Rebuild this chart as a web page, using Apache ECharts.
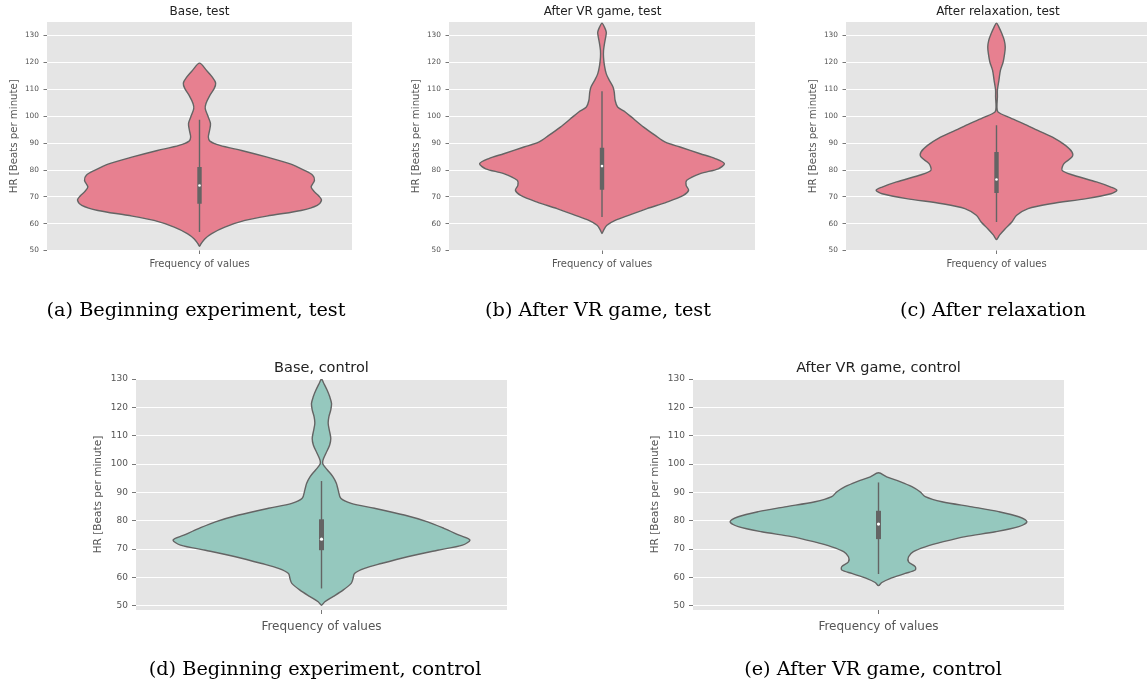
<!DOCTYPE html>
<html><head><meta charset="utf-8">
<script src="https://cdn.jsdelivr.net/npm/echarts@6/dist/echarts.min.js"></script>
<style>html,body{margin:0;padding:0;background:#fff}#c{width:1147px;height:685px}</style>
</head><body><div id="c"></div>
<script>
// ---------- data ----------
const panelTitles = ['Base, test', 'After VR game, test', 'After relaxation, test', 'Base, control', 'After VR game, control'];
const captions = ['(a) Beginning experiment, test', '(b) After VR game, test', '(c) After relaxation', '(d) Beginning experiment, control', '(e) After VR game, control'];
const yAxisTitle = 'HR [Beats per minute]';
const xAxisTitle = 'Frequency of values';
const yTickValues = [50, 60, 70, 80, 90, 100, 110, 120, 130];

// violin profiles: HR value (y) and half-width (w, in category units, max 0.4)
const baseTestY = [51.6, 52.5, 54.4, 56.3, 58.7, 61.2, 63.1, 64.9, 66.8, 68.7, 70.2, 71.8, 73.6, 76.1, 78.0, 79.8, 82.3, 84.8, 87.2, 89.1, 90.7, 92.2, 94.7, 97.2, 99.6, 102.7, 104.6, 107.7, 110.2, 112.3, 114.5, 117.0, 119.7];
const baseTestW = [0, 0.005, 0.018, 0.040, 0.083, 0.149, 0.236, 0.333, 0.386, 0.400, 0.392, 0.377, 0.366, 0.377, 0.371, 0.344, 0.295, 0.219, 0.138, 0.067, 0.034, 0.029, 0.033, 0.036, 0.029, 0.019, 0.021, 0.034, 0.048, 0.053, 0.042, 0.023, 0];
const baseTestBox = [56.9, 67.4, 74.2, 81.1, 98.6];

const vrTestY = [56.3, 57.5, 59.4, 61.2, 63.1, 65.6, 68.0, 70.5, 72.4, 74.2, 76.1, 78.6, 80.4, 82.3, 84.2, 86.0, 88.5, 90.3, 92.8, 95.9, 99.0, 101.5, 103.4, 105.8, 108.9, 110.8, 113.3, 115.7, 118.8, 121.9, 124.4, 126.9, 129.4, 131.2, 133.1, 134.6];
const vrTestW = [0, 0.005, 0.016, 0.043, 0.087, 0.147, 0.212, 0.266, 0.283, 0.275, 0.277, 0.321, 0.380, 0.400, 0.370, 0.321, 0.255, 0.207, 0.174, 0.136, 0.103, 0.076, 0.051, 0.043, 0.040, 0.036, 0.024, 0.014, 0.008, 0.005, 0.005, 0.008, 0.012, 0.014, 0.008, 0];
const vrTestBox = [62.5, 72.6, 81.4, 88.2, 109.2];

const relaxTestY = [54.1, 55.7, 58.1, 60.6, 63.1, 65.6, 67.4, 69.3, 71.1, 72.4, 73.6, 75.5, 78.0, 79.8, 82.3, 84.8, 86.6, 89.1, 92.2, 94.7, 97.2, 99.6, 101.5, 103.4, 107.1, 109.6, 113.3, 117.0, 120.1, 123.2, 125.7, 128.1, 130.6, 133.1, 134.6];
const relaxTestW = [0, 0.010, 0.029, 0.051, 0.067, 0.105, 0.180, 0.299, 0.380, 0.400, 0.380, 0.332, 0.256, 0.218, 0.224, 0.251, 0.251, 0.229, 0.186, 0.137, 0.089, 0.040, 0.005, 0.0015, 0.003, 0.003, 0.008, 0.013, 0.022, 0.027, 0.029, 0.026, 0.018, 0.008, 0];
const relaxTestBox = [60.6, 71.4, 76.4, 86.6, 96.6];

const baseCtrlY = [50.2, 51.4, 53.2, 55.5, 57.9, 59.6, 61.4, 63.2, 64.9, 67.3, 69.6, 71.4, 73.2, 74.9, 77.3, 79.6, 82.0, 84.4, 86.1, 87.9, 90.8, 93.2, 95.5, 97.9, 99.9, 101.4, 103.8, 106.7, 109.1, 112.0, 114.4, 116.7, 119.1, 121.4, 123.8, 126.1, 128.5, 130];
const baseCtrlW = [0, 0.009, 0.031, 0.058, 0.080, 0.085, 0.089, 0.116, 0.161, 0.232, 0.313, 0.380, 0.400, 0.371, 0.330, 0.286, 0.223, 0.143, 0.080, 0.052, 0.045, 0.040, 0.031, 0.016, 0.004, 0.004, 0.012, 0.022, 0.025, 0.021, 0.018, 0.020, 0.025, 0.027, 0.022, 0.015, 0.006, 0];
const baseCtrlBox = [56.1, 69.6, 73.5, 80.5, 94.0];

const vrCtrlY = [57.1, 58.2, 59.6, 61.4, 62.6, 63.8, 65.5, 67.3, 69.1, 70.8, 72.6, 74.4, 76.1, 77.9, 79.6, 81.4, 83.2, 84.9, 86.7, 88.5, 90.2, 92.0, 93.8, 95.5, 96.9];
const vrCtrlW = [0, 0.009, 0.031, 0.072, 0.099, 0.099, 0.081, 0.081, 0.094, 0.126, 0.175, 0.234, 0.315, 0.378, 0.400, 0.378, 0.324, 0.252, 0.171, 0.126, 0.112, 0.090, 0.058, 0.022, 0];
const vrCtrlBox = [61.2, 73.5, 78.8, 83.5, 93.5];

// ---------- layout / style ----------
const PINK = '#e78090', TEAL = '#95c8be', EDGE = '#646464';
const panels = [
  {y: baseTestY, w: baseTestW, box: baseTestBox, fill: PINK, grid: {left: 47, top: 22, width: 305, height: 228.5}, ymin: 50, ymax: 135, small: true, titleX: 199.5, capX: 196},
  {y: vrTestY, w: vrTestW, box: vrTestBox, fill: PINK, grid: {left: 449, top: 22, width: 306, height: 228.5}, ymin: 50, ymax: 135, small: true, titleX: 602.5, capX: 598},
  {y: relaxTestY, w: relaxTestW, box: relaxTestBox, fill: PINK, grid: {left: 846, top: 22, width: 305, height: 228.5}, ymin: 50, ymax: 135, small: true, titleX: 998, capX: 993},
  {y: baseCtrlY, w: baseCtrlW, box: baseCtrlBox, fill: TEAL, grid: {left: 136, top: 379, width: 371, height: 231}, ymin: 48.5, ymax: 130, small: false, titleX: 321.5, capX: 315},
  {y: vrCtrlY, w: vrCtrlW, box: vrCtrlBox, fill: TEAL, grid: {left: 693, top: 379, width: 371, height: 231}, ymin: 48.5, ymax: 130, small: false, titleX: 878.5, capX: 873}
];

function violinRender(p) {
  return function (params, api) {
    const n = p.y.length;
    const pts = [];
    for (let i = 0; i < n; i++) pts.push(api.coord([p.w[i], p.y[i]]));
    for (let i = n - 2; i >= 1; i--) pts.push(api.coord([-p.w[i], p.y[i]]));
    const b = p.box.map(v => api.coord([0, v]));
    const bw = p.small ? 4.4 : 5;
    return {type: 'group', children: [
      {type: 'polygon', shape: {points: pts, smooth: 0.3}, style: {fill: p.fill, stroke: EDGE, lineWidth: 1.4}},
      {type: 'line', shape: {x1: b[0][0], y1: b[0][1], x2: b[4][0], y2: b[4][1]}, style: {stroke: EDGE, lineWidth: 1.4}},
      {type: 'rect', shape: {x: b[3][0] - bw / 2, y: b[3][1], width: bw, height: b[1][1] - b[3][1]}, style: {fill: EDGE}},
      {type: 'circle', shape: {cx: b[2][0], cy: b[2][1], r: p.small ? 1.3 : 1.6}, style: {fill: '#ffffff'}}
    ]};
  };
}

const FONT = 'DejaVu Sans';
const option = {
  animation: false,
  backgroundColor: '#ffffff',
  title: [],
  grid: [], xAxis: [], yAxis: [], series: []
};
panels.forEach((p, i) => {
  const s = p.small;
  option.grid.push(Object.assign({show: true, backgroundColor: '#e5e5e5', borderWidth: 0, containLabel: false}, p.grid));
  option.xAxis.push({
    gridIndex: i, type: 'value', min: -0.5, max: 0.5,
    axisLine: {show: false, onZero: false}, splitLine: {show: false},
    axisTick: {show: true, customValues: [0], length: s ? 3.5 : 4, lineStyle: {color: '#555', width: 0.8}},
    axisLabel: {show: false},
    name: xAxisTitle, nameLocation: 'middle', nameGap: s ? 9 : 11,
    nameTextStyle: {fontFamily: FONT, fontSize: s ? 10 : 12, color: '#555555'}
  });
  option.yAxis.push({
    gridIndex: i, type: 'value', min: p.ymin, max: p.ymax,
    axisLine: {show: false, onZero: false},
    axisTick: {show: true, customValues: yTickValues, length: s ? 3.5 : 4, lineStyle: {color: '#555', width: 0.8}},
    axisLabel: {customValues: yTickValues, margin: 8, fontFamily: FONT, fontSize: s ? 7.4 : 9, color: '#555555'},
    splitLine: {show: true, lineStyle: {color: '#ffffff', width: 1}},
    name: yAxisTitle, nameLocation: 'middle', nameGap: s ? 28 : 32,
    nameTextStyle: {fontFamily: FONT, fontSize: s ? 10.2 : 10.5, color: '#555555'}
  });
  option.series.push({
    type: 'custom', xAxisIndex: i, yAxisIndex: i, clip: true,
    data: [[0, p.box[2]]],
    renderItem: violinRender(p)
  });
  option.title.push({
    text: panelTitles[i], left: p.titleX, top: s ? 6 : 361, textAlign: 'center', padding: 0,
    textStyle: {fontFamily: FONT, fontSize: s ? 12 : 14.5, fontWeight: 'normal', color: '#222222'}
  });
  option.title.push({
    text: captions[i], left: p.capX, top: s ? 301 : 660, textAlign: 'center', padding: 0,
    textStyle: {fontFamily: 'DejaVu Serif', fontSize: 19.3, fontWeight: 'normal', color: '#000000'}
  });
});

const chart = echarts.init(document.getElementById('c'), null, {renderer: 'canvas'});
chart.setOption(option);
</script>
</body></html>
